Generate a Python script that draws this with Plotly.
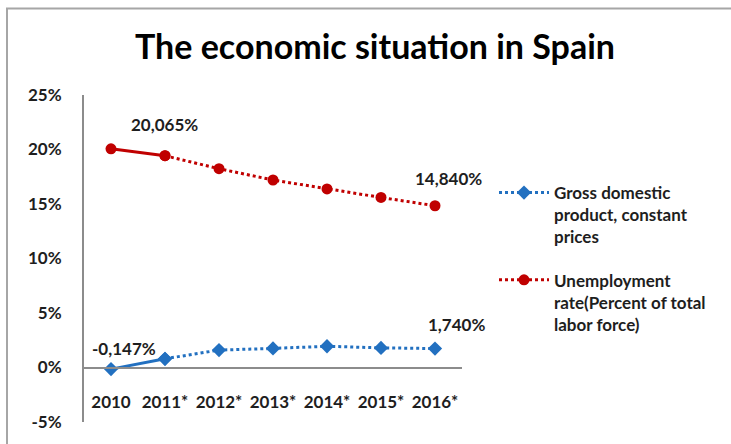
import plotly.graph_objects as go

# Spain: IMF World Economic Outlook figures (* = projection)
years = ["2010", "2011*", "2012*", "2013*", "2014*", "2015*", "2016*"]
gdp_growth = [-0.147, 0.8, 1.6, 1.75, 1.95, 1.8, 1.74]
unemployment = [20.065, 19.428, 18.237, 17.201, 16.383, 15.6, 14.84]
y_ticks = [-5, 0, 5, 10, 15, 20, 25]

gdp_name = "Gross domestic<br>product, constant<br>prices"
unemp_name = "Unemployment<br>rate(Percent of total<br>labor force)"

BLUE = "#2270C0"
RED = "#C00000"
AXIS = "#8C8C8C"
TEXT = "#1E1E1E"
FONT = "Lato"
FS = 17

W, H = 731, 444
L, R, T, B = 84, 462, 95, 426  # plot area in pixels


def px_x(p):
    return (p - L) / (R - L)


def px_y(p):
    return (B - p) / (B - T)


def pct(v):
    return f"{v:.3f}".replace(".", ",") + "%"


def bold(s):
    return "<b>" + s.replace("<br>", "</b><br><b>") + "</b>"


fig = go.Figure()

# actual year drawn solid, projections dotted
for vals, color, symbol, name, grp in [
    (gdp_growth, BLUE, "diamond", gdp_name, "g"),
    (unemployment, RED, "circle", unemp_name, "u"),
]:
    fig.add_trace(go.Scatter(
        x=years[:2], y=vals[:2], mode="lines+markers",
        line=dict(color=color, width=3),
        marker=dict(color=color, symbol=symbol, size=11),
        showlegend=False, legendgroup=grp, hoverinfo="skip",
    ))
    fig.add_trace(go.Scatter(
        x=years[1:], y=vals[1:], mode="lines+markers", name=bold(name),
        line=dict(color=color, width=3, dash="dot"),
        marker=dict(color=color, symbol=symbol, size=11),
        legendgroup=grp,
    ))

# value labels on first and last points
labels = [
    (0, unemployment[0], 53, 24),
    (6, unemployment[6], 13, 27),
    (0, gdp_growth[0], 13, 21),
    (6, gdp_growth[6], 21, 24),
]
for i, y, dx, dy in labels:
    fig.add_annotation(x=i, y=y, text=bold(pct(y)), showarrow=False,
                       xshift=dx, yshift=dy,
                       font=dict(family=FONT, size=FS, color=TEXT))

# chart frame
fig.add_shape(type="rect", xref="paper", yref="paper",
              x0=px_x(7), x1=px_x(760), y0=px_y(470), y1=px_y(7.5),
              line=dict(color="#A6A6A6", width=2), layer="below")

fig.update_layout(
    width=W, height=H,
    margin=dict(l=L, r=W - R, t=T, b=H - B, pad=0),
    paper_bgcolor="white", plot_bgcolor="white",
    font=dict(family=FONT, size=FS, color=TEXT),
    title=dict(text="<b>The economic situation in Spain</b>",
               font=dict(family=FONT, size=34, color="#000000"),
               xref="container", yref="container",
               x=375 / W, xanchor="center", y=1 - 47 / H, yanchor="middle"),
    xaxis=dict(type="category", range=[-0.5, 6.5],
               tickvals=years, ticktext=[bold(y) for y in years],
               anchor="free", position=5 / 30,
               showline=True, linecolor=AXIS, linewidth=2,
               showgrid=False, zeroline=False, ticks="",
               ticklabelstandoff=19,
               tickfont=dict(family=FONT, size=FS, color=TEXT)),
    yaxis=dict(range=[-5, 25],
               tickvals=y_ticks,
               ticktext=[bold(f"{v}%") for v in y_ticks],
               showline=True, linecolor=AXIS, linewidth=2,
               showgrid=False, zeroline=False, ticks="",
               ticklabelstandoff=17,
               tickfont=dict(family=FONT, size=FS, color=TEXT)),
    legend=dict(x=px_x(494), y=px_y(176), xanchor="left", yanchor="top",
                valign="top", itemwidth=50, tracegroupgap=18,
                font=dict(family=FONT, size=FS, color=TEXT),
                bgcolor="rgba(0,0,0,0)"),
)

fig.write_html("out.html")
